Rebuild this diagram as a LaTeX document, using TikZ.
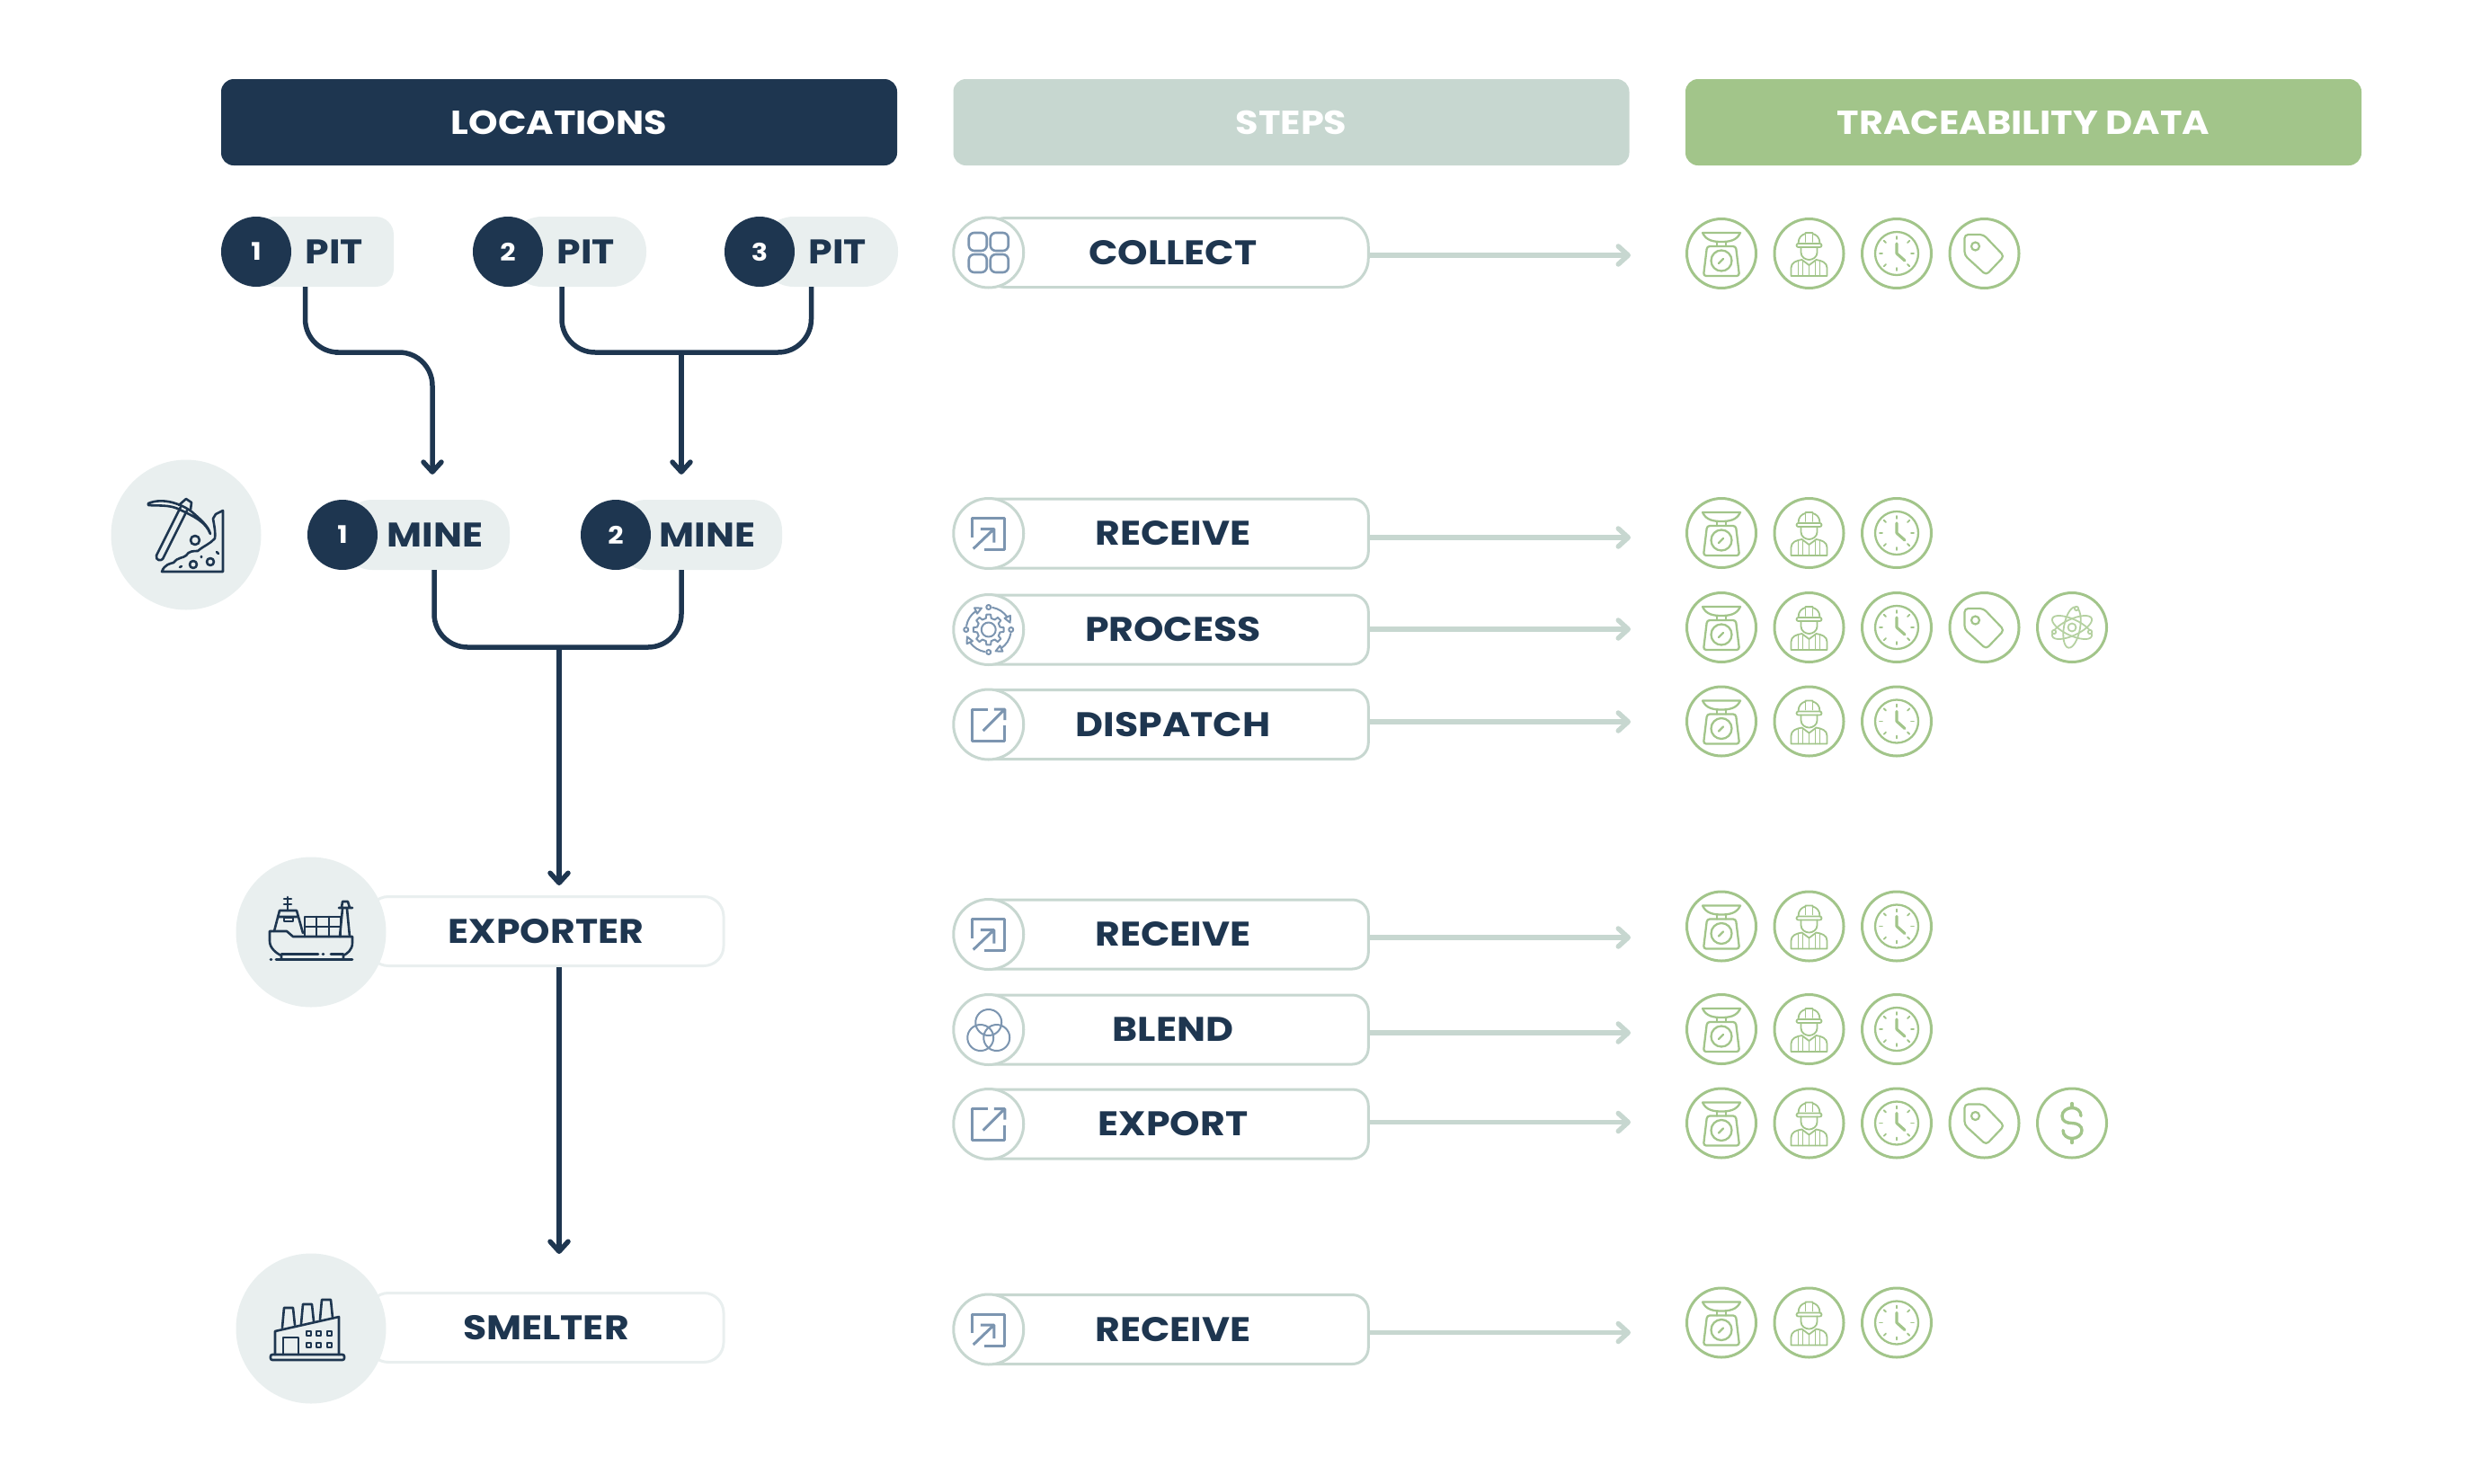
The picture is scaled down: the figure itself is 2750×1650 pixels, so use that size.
\documentclass[tikz,border=0pt]{standalone}
\usepackage{fontspec}
\setmainfont{Poppins}[FakeStretch=1.12]
\usetikzlibrary{positioning}
\usetikzlibrary{arrows.meta}
\definecolor{navy}{HTML}{1E3650}
\definecolor{sage}{HTML}{C7D7D0}
\definecolor{leaf}{HTML}{A2C58A}
\definecolor{mist}{HTML}{E9EFEF}
\definecolor{slate}{HTML}{7C95B0}
\tikzset{
  x=1pt, y=1pt,
  headbar/.style={rounded corners=14pt,minimum width=752pt,minimum height=96pt,inner sep=0pt,font=\fontsize{37}{37}\bfseries\selectfont},
  pillbox/.style={fill=mist,minimum height=78pt,inner sep=0pt},
  pilltext/.style={text=navy,inner sep=0pt,font=\fontsize{38}{38}\bfseries\selectfont},
  numcirc/.style={circle,fill=navy,text=white,minimum size=78pt,inner sep=0pt,font=\fontsize{27}{27}\bfseries\selectfont},
  placebox/.style={draw=mist,line width=3pt,fill=white,rounded corners=22pt,minimum width=395pt,minimum height=77pt,inner sep=0pt,text=navy,font=\fontsize{38}{38}\bfseries\selectfont},
  placecirc/.style={circle,fill=mist,minimum size=167pt,inner sep=0pt},
  stepbox/.style={draw=sage,line width=3pt,fill=white,rounded corners=18pt,minimum width=434.5pt,minimum height=77pt,inner sep=0pt,text=navy,font=\fontsize{38}{38}\bfseries\selectfont},
  stepcirc/.style={circle,draw=sage,line width=3pt,fill=white,minimum size=78pt,inner sep=0pt},
  datacirc/.style={circle,draw=leaf,line width=3pt,minimum size=77pt,inner sep=0pt},
  flow/.style={draw=navy,line width=5.5pt},
  flowtip/.style={flow,-{Straight Barb[length=11pt,width=20pt,round]}},
  steparrow/.style={draw=sage,line width=5.5pt,-{Straight Barb[length=11pt,width=20pt,round]}},
  dataline/.style={draw=leaf,line width=2.3pt,line join=round,line cap=round},
  stepline/.style={draw=slate,line width=2.6pt,line join=round,line cap=round},
  placeline/.style={draw=navy,line width=2.6pt,line join=round,line cap=round},
  scaleicon/.pic={
    \draw[dataline] (-21,23) -- (21,23) .. controls (17,14) and (8,13) .. (0,13) .. controls (-8,13) and (-17,14) .. (-21,23) -- cycle;
    \draw[dataline] (-5,13) -- (-5,8) (5,13) -- (5,8);
    \draw[dataline,rounded corners=3pt] (-16,8) -- (16,8) -- (20,-25) -- (-20,-25) -- cycle;
    \draw[dataline] (0,-8) circle (11.5);
    \draw[dataline] (-3,-11) -- (2,-6);
  },
  workericon/.pic={
    \draw[dataline,line width=1.8pt] (-12,11) .. controls (-12,18) and (-8,21) .. (-4,22) -- (-4,23) -- (4,23) -- (4,22) .. controls (8,21) and (12,18) .. (12,11);
    \draw[dataline,line width=1.8pt,rounded corners=2pt] (-14,11) -- (14,11) -- (14,7) -- (-14,7) -- cycle;
    \draw[dataline,line width=1.8pt] (-4,22) -- (-4,13) (4,22) -- (4,13);
    \draw[dataline,line width=1.8pt] (-9,7) -- (-9,1) .. controls (-9,-4) and (-4,-7) .. (0,-7) .. controls (4,-7) and (9,-4) .. (9,1) -- (9,7);
    \draw[dataline,line width=1.8pt] (-20,-25) -- (-20,-16) .. controls (-20,-10) and (-14,-8) .. (-8,-7) -- (0,-13) -- (8,-7) .. controls (14,-8) and (20,-10) .. (20,-16) -- (20,-25) -- cycle;
    \draw[dataline,line width=1.8pt] (0,-13) -- (0,-25) (-12,-9) -- (-12,-25) (12,-9) -- (12,-25) (-7,-8) -- (-7,-25) (7,-8) -- (7,-25);
  },
  clockicon/.pic={
    \draw[dataline] (0,0) circle (24);
    \draw[dataline,line width=3.2pt] (0,11) -- (0,0) -- (9,-8);
    \foreach \a in {0,90,180,270} { \draw[dataline,line width=1.8pt] (\a:16) -- (\a:19); }
    \foreach \a in {45,135,225,315} { \draw[dataline,line width=1.8pt] (\a:17) -- (\a:20); }
  },
  tagicon/.pic={
    \draw[dataline,line width=2.2pt,rounded corners=4pt] (-22,21) -- (-1,21) -- (22,-3) -- (2,-24) -- (-22,-2) -- cycle;
    \draw[dataline,line width=2.2pt] (-10,8) circle (4.5);
  },
  atomicon/.pic={
    \draw[dataline,line width=1.8pt,draw=leaf!80] (0,0) circle (4.5);
    \draw[dataline,line width=1.8pt,draw=leaf!80,rotate=80] (0,0) ellipse (23 and 9);
    \draw[dataline,line width=1.8pt,draw=leaf!80,rotate=25] (0,0) ellipse (24 and 9);
    \draw[dataline,line width=1.8pt,draw=leaf!80,rotate=-25] (0,0) ellipse (24 and 9);
    \draw[dataline,line width=1.8pt,draw=leaf!80,fill=white] (5,21) circle (2.2) (-20,-5) circle (2.2) (20,-5) circle (2.2);
  },
  dollaricon/.pic={
    \draw[dataline,line width=3.4pt] (10,8) .. controls (10,14) and (5,17) .. (0,17) .. controls (-6,17) and (-11,13) .. (-11,8) .. controls (-11,2) and (-6,0) .. (0,0) .. controls (6,0) and (11,-3) .. (11,-8) .. controls (11,-13) and (6,-17) .. (0,-17) .. controls (-5,-17) and (-10,-14) .. (-10,-8);
    \draw[dataline,line width=3.4pt] (0,17) -- (0,22) (0,-17) -- (0,-22);
  },
  collecticon/.pic={
    \draw[stepline,rounded corners=6pt] (-22,2) rectangle (-2,22);
    \draw[stepline,rounded corners=6pt] (2,2) rectangle (22,22);
    \draw[stepline,rounded corners=6pt] (-22,-22) rectangle (-2,-2);
    \draw[stepline,rounded corners=6pt] (2,-22) rectangle (22,-2);
  },
  receiveicon/.pic={
    \draw[stepline,line cap=butt,line width=3pt] (-18,-4) -- (-18,17) -- (18,17) -- (18,-18) -- (-5,-18);
    \draw[stepline,line cap=butt,line width=3pt] (-17,-17) -- (6,5) (-9,5) -- (6,5) -- (6,-10);
  },
  exporticon/.pic={
    \draw[stepline,line cap=butt,line width=3pt] (-1,17) -- (-18,17) -- (-18,-18) -- (18,-18) -- (18,-1);
    \draw[stepline,line cap=butt,line width=3pt] (-6,-7) -- (18,17) (6,17) -- (18,17) -- (18,5);
  },
  blendicon/.pic={
    \draw[stepline,line width=2pt] (0,8) circle (14.5) (-9,-9) circle (14.5) (9,-9) circle (14.5);
  },
  processicon/.pic={
    \draw[stepline,line width=2pt] (0,0) circle (8);
    \draw[stepline,line width=2pt] (-13:13) \foreach \a in {0,45,...,315} { -- (\a-13:13) -- (\a-8:17) -- (\a+8:17) -- (\a+13:13) } -- cycle;
    \foreach \r in {0,-90,-180,-270} {
      \begin{scope}[rotate=\r]
        \draw[stepline,line width=2pt] (80:25) arc (80:34:25);
        \draw[stepline,line width=2pt,shift={(25:25)},rotate=-65] (-4,3.5) -- (3,0) -- (-4,-3.5) -- cycle;
        \draw[stepline,line width=2pt] (0,25) circle (2.5);
      \end{scope}
    }
  },
  pickicon/.pic={
    \draw[placeline] (-33,-23) -- (-6,31) (-26,-27) -- (1,27);
    \draw[placeline] (-33,-23) .. controls (-34,-29) and (-28,-29) .. (-26,-27);
    \draw[placeline] (-42,35) .. controls (-25,42) and (-5,34) .. (6,26) .. controls (15,18) and (25,10) .. (27,1) .. controls (22,14) and (10,20) .. (-7,28) .. controls (-18,34) and (-32,32) .. (-42,33) -- cycle;
    \draw[placeline] (-8,33) -- (0,40) -- (6,36) -- (5,28);
    \draw[placeline] (41,27) -- (41,-41) -- (-27,-41) .. controls (-24,-33) and (-18,-32) .. (-14,-31) .. controls (-10,-25) and (-3,-26) .. (0,-23) .. controls (3,-18) and (8,-18) .. (13,-18) .. controls (20,-12) and (27,-10) .. (32,-4) .. controls (33,3) and (31,12) .. (30,18) -- (33,23) -- cycle;
    \draw[placeline] (10,-6) circle (5) (8,-33) circle (4) (27,-30) circle (4);
    \draw[placeline] (-7,-36) -- (-5,-35) (17,-25) -- (17,-24) (34,-19) -- (36,-21);
  },
  shipicon/.pic={
    \draw[placeline] (-46,1) -- (-27,1) -- (-20,-5) -- (46,-5) -- (46,-12) .. controls (46,-20) and (40,-24) .. (36,-26) -- (36,-30) (-46,1) -- (-46,-10) .. controls (-46,-18) and (-38,-24) .. (-33,-26) -- (-33,-30);
    \draw[placeline] (-39,-30.5) -- (46,-30.5) (-45,-30.5) -- (-44,-30.5);
    \draw[placeline] (-33,-24.5) -- (8,-24.5) (13,-24.5) -- (14,-24.5) (22,-24.5) -- (36,-24.5);
    \draw[placeline] (-41,1) -- (-35,24) -- (-16,24) -- (-9,-1) (-37,17) -- (-14,17);
    \draw[placeline] (-30,12) rectangle (-20,16);
    \draw[placeline] (-26,24) -- (-26,39) (-30,37) -- (-22,37) (-30,31) -- (-22,31);
    \draw[placeline] (-7,-5) -- (-7,17) -- (33,17) -- (33,-5);
    \draw[placeline] (6,17) -- (6,-5) (20,17) -- (20,-5) (-7,6) -- (33,6);
    \draw[placeline] (32,-5) -- (35,26) (43,-5) -- (40,26) (31,27) -- (46,27) (34,27) -- (35,34) -- (41,34) -- (43,27);
  },
  factoryicon/.pic={
    \draw[placeline,rounded corners=2pt] (-45,-29) rectangle (37,-35);
    \draw[placeline] (-40,-29) -- (-40,-3) -- (31,13) -- (31,-29);
    \draw[placeline] (-31,-29) -- (-31,-10) -- (-14,-10) -- (-14,-29);
    \draw[placeline,line width=2pt] (-5,-8) rectangle (0,-3) (6,-8) rectangle (11,-3) (18,-8) rectangle (23,-3);
    \draw[placeline,line width=2pt] (-5,-21) rectangle (0,-16) (6,-21) rectangle (11,-16) (18,-21) rectangle (23,-16);
    \draw[placeline] (-32,1) -- (-30,23) -- (-20,23) -- (-18,4);
    \draw[placeline] (-11,5) -- (-9,27) -- (1,27) -- (3,8);
    \draw[placeline] (10,10) -- (12,32) -- (22,32) -- (24,12);
  },
}
% one step row: options, name, y, label, icon, y of the arrow
\newcommand{\Tstep}[6][]{
  \node[stepbox,#1] (#2) at (1305,#3) {#4};
  \node[stepcirc] (#2icn) at ([xshift=13.5pt]#2.west) {};
  \pic at (#2icn) {#5};
  \coordinate (#2end) at (1814,#6);
  \draw[steparrow] (#2.east |- #2end) -- (#2end);
}
% data icons of one row: name, y
\newcommand{\Tdata}[2]{
  \node[datacirc] (#1s) at (1915,#2) {};
  \node[datacirc, right=17.5pt of #1s] (#1w) {};
  \node[datacirc, right=17.5pt of #1w] (#1c) {};
  \pic at (#1s) {scaleicon};
  \pic at (#1w) {workericon};
  \pic at (#1c) {clockicon};
}
\newcommand{\Textra}[3]{
  \node[datacirc, right=17.5pt of #1] (#2) {};
  \pic at (#2) {#3};
}
\begin{document}
\begin{tikzpicture}
\useasboundingbox (0,0) rectangle (2750,-1650);

% Headers
\node[headbar, fill=navy, text=white] (locations) at (622,-136) {LOCATIONS};
\node[headbar, fill=sage, text=white] (steps) at (1436.5,-136) {STEPS};
\node[headbar, fill=leaf, text=white] (traceability) at (2251,-136) {TRACEABILITY DATA};

% Pits
\node[pillbox, minimum width=153pt, rounded corners=20pt] (pita) at (361.5,-280) {};
\node[pillbox, minimum width=154pt, rounded corners=38pt] (pitb) at (642,-280) {};
\node[pillbox, minimum width=154pt, rounded corners=38pt] (pitc) at (922,-280) {};
\node[numcirc] (pitanum) at (285,-280) {1};
\node[numcirc] (pitbnum) at (565,-280) {2};
\node[numcirc] (pitcnum) at (845,-280) {3};
\node[pilltext] (pitatxt) at (372,-280) {PIT};
\node[pilltext] (pitbtxt) at (652,-280) {PIT};
\node[pilltext] (pitctxt) at (932,-280) {PIT};

% Mines
\node[placecirc] (minecirc) at (207,-595) {};
\pic at (minecirc) {pickicon};
\node[pillbox, minimum width=187pt, rounded corners=34pt] (minea) at (473.5,-595) {};
\node[pillbox, minimum width=185pt, rounded corners=34pt] (mineb) at (777.5,-595) {};
\node[numcirc] (mineanum) at (381,-595) {1};
\node[numcirc] (minebnum) at (685,-595) {2};
\node[pilltext] (mineatxt) at (484,-595) {MINE};
\node[pilltext] (minebtxt) at (787,-595) {MINE};

% Exporter, smelter
\node[placebox] (exporter) at (607.5,-1036) {EXPORTER};
\node[placecirc] (exportercirc) at (346,-1037) {};
\pic at (exportercirc) {shipicon};
\node[placebox] (smelter) at (607.5,-1477) {SMELTER};
\node[placecirc] (smeltercirc) at (346,-1478) {};
\pic at (smeltercirc) {factoryicon};

% Edges
\coordinate (pitaturn) at (410,-392);
\coordinate (pitjoin) at (758,-392);
\coordinate (mineain) at ([xshift=7.5pt,yshift=28pt]minea.north);
\coordinate (minebin) at ([xshift=-19.5pt,yshift=28pt]mineb.north);
\coordinate (minejoin) at (622,-720);
\coordinate (exporterin) at ([xshift=14.5pt,yshift=11pt]exporter.north);
\coordinate (smelterin) at ([xshift=14.5pt,yshift=42pt]smelter.north);
\draw[flowtip, rounded corners=37pt] ([xshift=-22pt]pita.south) |- (pitaturn) -| (mineain);
\draw[flow, rounded corners=37pt] ([xshift=-17pt]pitb.south) |- (pitjoin) -| ([xshift=-19.5pt]pitc.south);
\draw[flowtip] (pitjoin) -- (minebin);
\draw[flow, rounded corners=37pt] ([xshift=9.5pt]minea.south) |- (minejoin) -| ([xshift=-19.5pt]mineb.south);
\draw[flowtip] (minejoin) -- (exporterin);
\draw[flowtip] ([xshift=14.5pt]exporter.south) -- (smelterin);

% Steps
\Tstep[rounded corners=32pt]{collect}{-281}{COLLECT}{collecticon}{-284}
\Tstep{receivea}{-593.5}{RECEIVE}{receiveicon}{-598}
\Tstep{process}{-700.5}{PROCESS}{processicon}{-700}
\Tstep{dispatch}{-806}{DISPATCH}{exporticon}{-803}
\Tstep{receiveb}{-1039.5}{RECEIVE}{receiveicon}{-1043}
\Tstep{blend}{-1145.5}{BLEND}{blendicon}{-1149}
\Tstep{export}{-1250.5}{EXPORT}{exporticon}{-1248.5}
\Tstep{receivec}{-1479}{RECEIVE}{receiveicon}{-1482.5}

% Traceability data
\Tdata{da}{-282}
\Textra{dac}{dat}{tagicon}
\Tdata{db}{-593}
\Tdata{dc}{-698}
\Textra{dcc}{dct}{tagicon}
\Textra{dct}{dca}{atomicon}
\Tdata{dd}{-802.5}
\Tdata{de}{-1030.5}
\Tdata{df}{-1145}
\Tdata{dg}{-1249.5}
\Textra{dgc}{dgt}{tagicon}
\Textra{dgt}{dgd}{dollaricon}
\Tdata{dh}{-1471.5}
\end{tikzpicture}
\end{document}
